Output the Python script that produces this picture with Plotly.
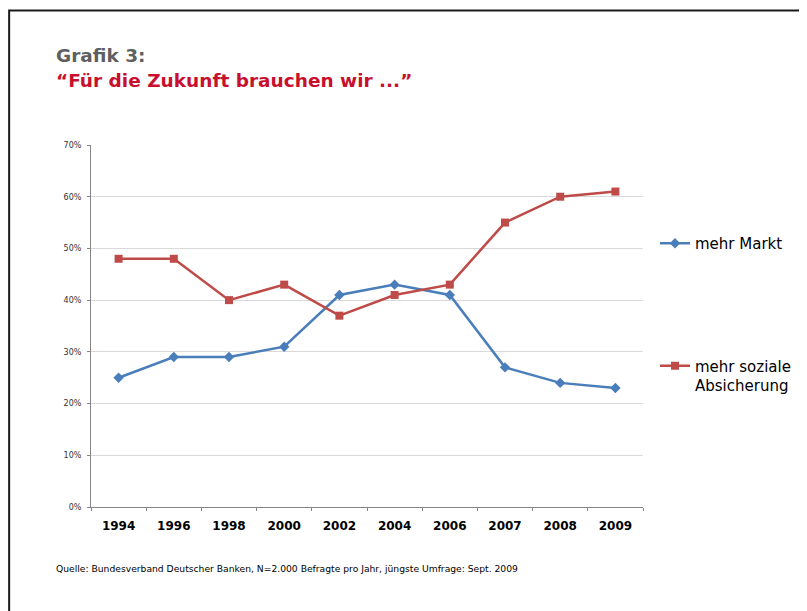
import plotly.graph_objects as go

years = ["1994", "1996", "1998", "2000", "2002", "2004", "2006", "2007", "2008", "2009"]
mehr_markt = [0.25, 0.29, 0.29, 0.31, 0.41, 0.43, 0.41, 0.27, 0.24, 0.23]
mehr_sozial = [0.48, 0.48, 0.40, 0.43, 0.37, 0.41, 0.43, 0.55, 0.60, 0.61]
y_ticks = [0, 0.1, 0.2, 0.3, 0.4, 0.5, 0.6, 0.7]

OFF = 8  # browser body margin
W, H = 807 - OFF, 611 - OFF
# plot area in page pixels
L, R, T, B = 91 - OFF, 644 - OFF, 145 - OFF, 507 - OFF


def px(x):
    return (x - OFF - L) / (R - L)


def py(y):
    return (B - (y - OFF)) / (B - T)


BLUE = "#4A7EBB"
RED = "#BE4B48"

fig = go.Figure()
fig.add_trace(go.Scatter(
    x=years, y=mehr_markt, name="mehr Markt", mode="lines+markers",
    line=dict(color=BLUE, width=2.5),
    marker=dict(symbol="diamond", size=8, color=BLUE),
    legendgroup="a",
))
fig.add_trace(go.Scatter(
    x=years, y=mehr_sozial, name="mehr soziale<br>Absicherung", mode="lines+markers",
    line=dict(color=RED, width=2.5),
    marker=dict(symbol="square", size=8, color=RED),
    legendgroup="b",
))

fig.update_layout(
    width=W, height=H,
    margin=dict(l=L, r=W - R, t=T, b=H - B),
    paper_bgcolor="white", plot_bgcolor="white",
    font=dict(family="DejaVu Sans", color="#000"),
    showlegend=True,
    legend=dict(
        x=px(655), y=py(227), xanchor="left", yanchor="top",
        font=dict(size=15, family="DejaVu Sans", color="#000"),
        tracegroupgap=100, itemwidth=30, valign="top",
        bgcolor="rgba(0,0,0,0)",
    ),
    xaxis=dict(
        type="category", showgrid=False, showline=True, linecolor="#868686",
        linewidth=1, ticks="outside", tickson="boundaries", ticklen=3,
        tickcolor="#868686", ticklabelstandoff=8,
        tickfont=dict(size=12, family="DejaVu Sans", color="#000", weight="bold"),
        range=[-0.5, 9.5],
    ),
    yaxis=dict(
        range=[0, 0.7], tickvals=y_ticks, tickformat=".0%",
        showgrid=True, gridcolor="#d9d9d9", gridwidth=1,
        showline=True, linecolor="#868686", linewidth=1,
        ticks="outside", ticklen=3, tickcolor="#868686", ticklabelstandoff=4,
        tickfont=dict(size=8, family="DejaVu Sans", color="#333"),
        zeroline=False,
    ),
    shapes=[dict(
        type="rect", xref="paper", yref="paper",
        x0=px(9), y0=py(700), x1=px(900), y1=py(10.5),
        line=dict(color="#1a1a1a", width=2), fillcolor="rgba(0,0,0,0)",
        layer="below",
    )],
    annotations=[
        dict(text="<b>Grafik 3:</b>", xref="paper", yref="paper",
             x=px(54), y=py(55), xanchor="left", yanchor="middle",
             showarrow=False, font=dict(size=18.5, color="#5f5f5f", family="DejaVu Sans")),
        dict(text="<b>\u201cFür die Zukunft brauchen wir ...\u201d</b>", xref="paper", yref="paper",
             x=px(54), y=py(80), xanchor="left", yanchor="middle",
             showarrow=False, font=dict(size=18.5, color="#C8102E", family="DejaVu Sans")),
        dict(text="Quelle: Bundesverband Deutscher Banken, N=2.000 Befragte pro Jahr, jüngste Umfrage: Sept. 2009",
             xref="paper", yref="paper", x=px(54), y=py(568), xanchor="left", yanchor="middle",
             showarrow=False, font=dict(size=9.2, color="#000", family="DejaVu Sans")),
    ],
)

fig.write_html("out.html")
